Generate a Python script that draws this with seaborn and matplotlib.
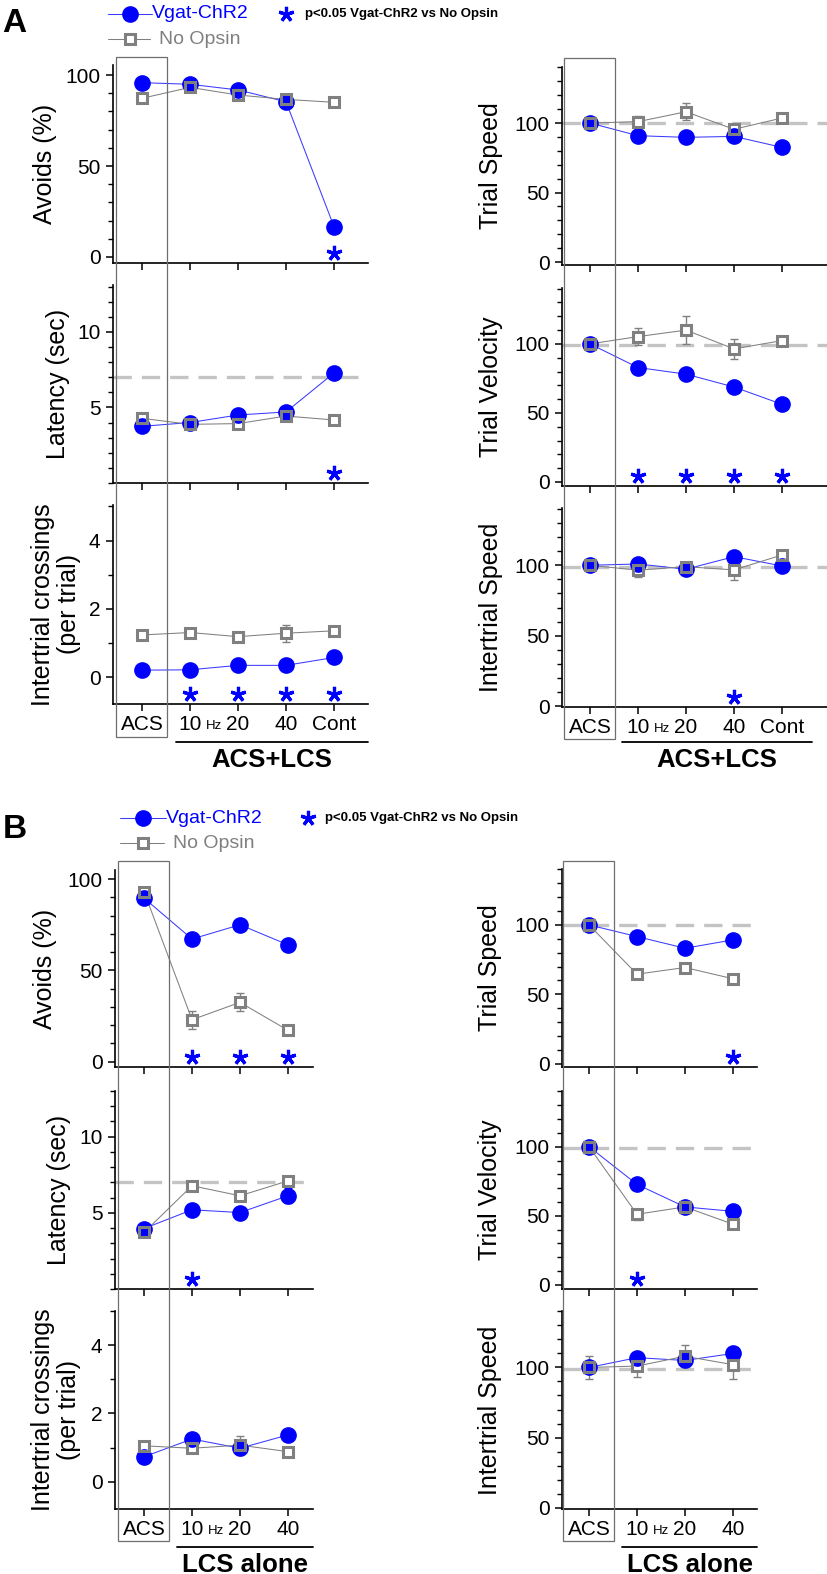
import matplotlib
matplotlib.use("Agg")
import numpy as np
import pandas as pd
import matplotlib.pyplot as plt
import matplotlib.transforms as mtransforms
from matplotlib.lines import Line2D
from matplotlib.patches import Rectangle
from matplotlib.ticker import FixedLocator, MultipleLocator
import seaborn as sns

W, H = 828, 1574

# ---- categories ----
acs_lcs_labels = ["ACS", "10", "20", "40", "Cont"]
lcs_alone_labels = ["ACS", "10", "20", "40"]

# ---- A: ACS+LCS ----
a_avoids_chr2 = [95.8, 94.9, 91.8, 85.3, 16.7]
a_avoids_noop = [87.2, 93.2, 89.0, 86.6, 85.0]
a_avoids_chr2_err = [1.5, 1.5, 1.5, 2.0, 3.0]
a_avoids_noop_err = [1.5, 1.5, 1.5, 2.0, 1.5]
a_avoids_stars = [4]

a_latency_chr2 = [3.75, 4.0, 4.5, 4.7, 7.28]
a_latency_noop = [4.28, 3.88, 3.93, 4.43, 4.17]
a_latency_chr2_err = [0.15, 0.15, 0.2, 0.2, 0.25]
a_latency_noop_err = [0.2, 0.15, 0.15, 0.2, 0.15]
a_latency_stars = [4]

a_cross_chr2 = [0.21, 0.22, 0.35, 0.35, 0.58]
a_cross_noop = [1.24, 1.31, 1.19, 1.29, 1.36]
a_cross_chr2_err = [0.05, 0.05, 0.05, 0.05, 0.08]
a_cross_noop_err = [0.08, 0.08, 0.08, 0.25, 0.08]
a_cross_stars = [1, 2, 3, 4]

a_tspeed_chr2 = [100, 90.9, 89.7, 90.4, 82.5]
a_tspeed_noop = [100, 101.0, 108.1, 95.5, 103.6]
a_tspeed_chr2_err = [1, 2, 2, 2, 2]
a_tspeed_noop_err = [1, 4, 6, 3, 2]
a_tspeed_stars = []

a_tvel_chr2 = [100, 82.9, 78.1, 68.8, 56.3]
a_tvel_noop = [100, 105.3, 110.0, 96.4, 102.4]
a_tvel_chr2_err = [1, 2, 2, 3, 3]
a_tvel_noop_err = [1, 6, 10, 7, 2]
a_tvel_stars = [1, 2, 3, 4]

a_ispeed_chr2 = [100, 100.9, 97.2, 106.1, 99.5]
a_ispeed_noop = [100, 96.5, 99.0, 96.7, 107.3]
a_ispeed_chr2_err = [1, 2, 2, 3, 2]
a_ispeed_noop_err = [2, 5, 3, 7, 3]
a_ispeed_stars = [3]

# ---- B: LCS alone ----
b_avoids_chr2 = [89.6, 67.2, 75.0, 64.0]
b_avoids_noop = [93.2, 23.0, 32.5, 17.2]
b_avoids_chr2_err = [2, 3, 2, 2]
b_avoids_noop_err = [1.5, 5, 5, 2]
b_avoids_stars = [1, 2, 3]

b_latency_chr2 = [3.97, 5.2, 5.02, 6.12]
b_latency_noop = [3.71, 6.78, 6.12, 7.1]
b_latency_chr2_err = [0.2, 0.2, 0.2, 0.5]
b_latency_noop_err = [0.2, 0.2, 0.2, 0.2]
b_latency_stars = [1]

b_cross_chr2 = [0.73, 1.25, 0.98, 1.37]
b_cross_noop = [1.05, 0.98, 1.07, 0.88]
b_cross_chr2_err = [0.08, 0.08, 0.08, 0.08]
b_cross_noop_err = [0.1, 0.1, 0.28, 0.1]
b_cross_stars = []

b_tspeed_chr2 = [100, 91.6, 83.2, 89.2]
b_tspeed_noop = [100, 64.5, 69.3, 61.2]
b_tspeed_chr2_err = [1, 2, 2, 2]
b_tspeed_noop_err = [2, 3, 3, 3]
b_tspeed_stars = [3]

b_tvel_chr2 = [100, 72.7, 56.4, 53.2]
b_tvel_noop = [100, 51.1, 56.4, 43.9]
b_tvel_chr2_err = [1, 3, 2, 2]
b_tvel_noop_err = [2, 4, 3, 3]
b_tvel_stars = [1]

b_ispeed_chr2 = [100, 107.0, 105.0, 110.0]
b_ispeed_noop = [100, 101.0, 108.0, 102.0]
b_ispeed_chr2_err = [3, 3, 3, 3]
b_ispeed_noop_err = [8, 8, 8, 10]
b_ispeed_stars = []

BLUE = "#0000FF"
LINE_BLUE = "#3A3AFF"
GRAY = "#808080"
REF_GRAY = "#C4C4C4"
BOX_GRAY = "#6E6E6E"
FONT = ["Liberation Sans", "DejaVu Sans"]

YSPEC = {
    "avoids": ([0, 50, 100], 10),
    "latency": ([5, 10], 1),
    "cross": ([0, 2, 4], 1),
    "speed": ([0, 50, 100], 10),
}


def fpx(x, y):
    return x / W, 1 - y / H


def add_axes(fig, l, r, t, b):
    return fig.add_axes([l / W, 1 - b / H, (r - l) / W, (b - t) / H])


def draw_panel(ax, labels, chr2, noop, chr2_err, noop_err, stars, ref, ylim, kind, xlim, show_labels):
    n = len(labels)
    x = np.arange(n)
    df = pd.DataFrame({"x": np.tile(x, 2), "y": np.r_[chr2, noop],
                       "group": ["Vgat-ChR2"] * n + ["No Opsin"] * n})
    sns.lineplot(data=df, x="x", y="y", hue="group",
                 palette={"Vgat-ChR2": LINE_BLUE, "No Opsin": GRAY},
                 linewidth=0.75, legend=False, errorbar=None, ax=ax, zorder=1)
    if ref is not None:
        ax.axhline(ref, color=REF_GRAY, lw=2.4, dashes=(5.5, 3.0), zorder=0.5)
    ax.errorbar(x, chr2, yerr=chr2_err, fmt="none", ecolor=BLUE, elinewidth=1,
                capsize=3, capthick=1, zorder=1.5)
    ax.errorbar(x, noop, yerr=noop_err, fmt="none", ecolor=GRAY, elinewidth=1,
                capsize=3, capthick=1, zorder=1.5)
    # white square faces mask the lines, circles on top, hollow square edges last
    ax.plot(x, noop, ls="none", marker="s", ms=7.6, mfc="white", mec="none", zorder=2)
    ax.plot(x, chr2, ls="none", marker="o", ms=11, mfc=BLUE, mec=BLUE, zorder=3)
    ax.plot(x, noop, ls="none", marker="s", ms=7.6, mfc="none", mec=GRAY, mew=2.2, zorder=4)

    if stars:
        tr = mtransforms.blended_transform_factory(ax.transData, ax.transAxes)
        ax.plot(stars, [0.05] * len(stars), transform=tr, ls="none", marker=(5, 2, 0),
                ms=11, mew=2.3, color=BLUE, clip_on=False, zorder=5)

    ax.set_xlim(*xlim)
    ax.set_ylim(*ylim)
    major, minor = YSPEC[kind]
    ax.yaxis.set_major_locator(FixedLocator(major))
    ax.yaxis.set_minor_locator(MultipleLocator(minor))
    ax.set_xticks(x)
    if show_labels:
        ax.set_xticklabels(labels)
        ax.annotate("Hz", xy=(1.5, 0), xycoords=("data", "axes fraction"),
                    xytext=(0, -18), textcoords="offset points", ha="center",
                    va="baseline", fontsize=9.5, family=FONT, color="black")
    else:
        ax.set_xticklabels([])
    ax.set_xlabel("")
    ax.set_ylabel("")
    sns.despine(ax=ax)
    for sp in ("left", "bottom"):
        ax.spines[sp].set_linewidth(1.2)
        ax.spines[sp].set_color("black")
    ax.tick_params(axis="both", which="major", direction="out", length=5, width=1.1,
                   labelsize=15, pad=3, color="black", labelcolor="black")
    ax.tick_params(axis="y", which="minor", direction="out", length=3.3, width=1.0, color="black")
    ax.tick_params(axis="y", which="major", pad=4)


def main():
    sns.set_theme(style="ticks")
    plt.rcParams["font.family"] = FONT
    plt.rcParams["text.color"] = "black"
    fig = plt.figure(figsize=(W / 100, H / 100), dpi=100)

    ylabels = ["Avoids (%)", "Latency (sec)", "Intertrial crossings\n(per trial)",
               "Trial Speed", "Trial Velocity", "Intertrial Speed"]
    kinds = ["avoids", "latency", "cross", "speed", "speed", "speed"]

    sections = [
        dict(labels=acs_lcs_labels, bracket="ACS+LCS",
             data=[(a_avoids_chr2, a_avoids_noop, a_avoids_chr2_err, a_avoids_noop_err, a_avoids_stars, None),
                   (a_latency_chr2, a_latency_noop, a_latency_chr2_err, a_latency_noop_err, a_latency_stars, 7),
                   (a_cross_chr2, a_cross_noop, a_cross_chr2_err, a_cross_noop_err, a_cross_stars, None),
                   (a_tspeed_chr2, a_tspeed_noop, a_tspeed_chr2_err, a_tspeed_noop_err, a_tspeed_stars, 100),
                   (a_tvel_chr2, a_tvel_noop, a_tvel_chr2_err, a_tvel_noop_err, a_tvel_stars, 99),
                   (a_ispeed_chr2, a_ispeed_noop, a_ispeed_chr2_err, a_ispeed_noop_err, a_ispeed_stars, 99)],
             ylims=[(-3.3, 105.5), (0, 13.1), (-0.78, 5.04), (-2.1, 140.3), (-2.9, 140.5), (-0.5, 140.6)],
             cols=[dict(l=113, r=368, c0=142, rows=[(65, 263), (285, 483), (505, 704)], ylab_x=[45, 58, 56],
                        box=(57, 737), br_x=(0.7, None), br_y=742, txt_y=760),
                   dict(l=562, r=828, c0=590, rows=[(67, 265), (288, 486), (508, 707)], ylab_x=[491, 491, 491],
                        box=(58, 739), br_x=(0.67, 4.625), br_y=742, txt_y=760)],
             letter=("A", 2, 23), leg=(108, 152, 14, 39, 159), stat=(286, 305, 14)),
        dict(labels=lcs_alone_labels, bracket="LCS alone",
             data=[(b_avoids_chr2, b_avoids_noop, b_avoids_chr2_err, b_avoids_noop_err, b_avoids_stars, None),
                   (b_latency_chr2, b_latency_noop, b_latency_chr2_err, b_latency_noop_err, b_latency_stars, 7),
                   (b_cross_chr2, b_cross_noop, b_cross_chr2_err, b_cross_noop_err, b_cross_stars, None),
                   (b_tspeed_chr2, b_tspeed_noop, b_tspeed_chr2_err, b_tspeed_noop_err, b_tspeed_stars, 100),
                   (b_tvel_chr2, b_tvel_noop, b_tvel_chr2_err, b_tvel_noop_err, b_tvel_stars, 99),
                   (b_ispeed_chr2, b_ispeed_noop, b_ispeed_chr2_err, b_ispeed_noop_err, b_ispeed_stars, 99)],
             ylims=[(-2.9, 105), (0, 13), (-0.8, 5.0), (-2.4, 140.3), (-3, 140.3), (-1, 140.3)],
             cols=[dict(l=115, r=313, c0=144, rows=[(870, 1067), (1091, 1289), (1311, 1509)], ylab_x=[45, 59, 56],
                        box=(861, 1541), br_x=(0.69, None), br_y=1547, txt_y=1565),
                   dict(l=562, r=757, c0=589, rows=[(869, 1067), (1091, 1289), (1311, 1509)], ylab_x=[490, 490, 490],
                        box=(861, 1541), br_x=(0.69, None), br_y=1547, txt_y=1565)],
             letter=("B", 3, 829), leg=(120, 166, 818, 843, 173), stat=(308, 325, 818)),
    ]

    for sec in sections:
        labels = sec["labels"]
        for ci, col in enumerate(sec["cols"]):
            xlim = ((col["l"] - col["c0"]) / 48, (col["r"] - col["c0"]) / 48)
            ax_bottom = None
            for ri, (t, b) in enumerate(col["rows"]):
                k = ci * 3 + ri
                ax = add_axes(fig, col["l"], col["r"], t, b)
                chr2, noop, ce, ne, stars, ref = sec["data"][k]
                draw_panel(ax, labels, chr2, noop, ce, ne, stars, ref, sec["ylims"][k],
                           kinds[k], xlim, show_labels=(ri == 2))
                fx, fy = fpx(col["ylab_x"][ri], (t + b) / 2)
                fig.text(fx, fy, ylabels[k], rotation=90, ha="center", va="center",
                         fontsize=18, linespacing=1.15, multialignment="center")
                ax_bottom = ax
            blend = mtransforms.blended_transform_factory(ax_bottom.transData, fig.transFigure)
            # ACS box
            y_top, y_bot = col["box"]
            fig.add_artist(Rectangle((-0.55, 1 - y_bot / H), 1.08, (y_bot - y_top) / H,
                                     transform=blend, fill=False, edgecolor=BOX_GRAY, lw=0.9))
            # bracket + label
            x0, x1 = col["br_x"]
            if x1 is None:
                x1 = xlim[1]
            fig.add_artist(Line2D([x0, x1], [1 - col["br_y"] / H] * 2, transform=blend,
                                  color="black", lw=1.3))
            fig.text((x0 + x1) / 2, 1 - col["txt_y"] / H, sec["bracket"], transform=blend,
                     ha="center", va="center", fontsize=18.5, fontweight="bold")

        # panel letter + legend
        letter, lx, ly = sec["letter"]
        fig.text(*fpx(lx, ly), letter, ha="left", va="center", fontsize=24, fontweight="bold")
        lx0, lx1, y1, y2, tx2 = sec["leg"]
        cx = (lx0 + lx1) / 2
        fig.add_artist(Line2D([lx0 / W, lx1 / W], [1 - y1 / H] * 2, color=LINE_BLUE, lw=0.75))
        fig.add_artist(Line2D([cx / W], [1 - y1 / H], ls="none", marker="o", ms=11, color=BLUE))
        fig.text(*fpx(lx1, y1), "Vgat-ChR2", ha="left", va="center", fontsize=14, color=BLUE)
        fig.add_artist(Line2D([lx0 / W, (lx1 - 2) / W], [1 - y2 / H] * 2, color=GRAY, lw=0.75))
        fig.add_artist(Line2D([cx / W], [1 - y2 / H], ls="none", marker="s", ms=7.6,
                              mfc="white", mec=GRAY, mew=2.2))
        fig.text(*fpx(tx2, y2), "No Opsin", ha="left", va="center", fontsize=14, color=GRAY)
        sx, stx, sy = sec["stat"]
        fig.add_artist(Line2D([sx / W], [1 - sy / H], ls="none", marker=(5, 2, 0), ms=11,
                              mew=2.3, color=BLUE))
        fig.text(*fpx(stx, sy), "p<0.05 Vgat-ChR2 vs No Opsin", ha="left", va="center",
                 fontsize=9.5, fontweight="bold")

    fig.savefig("out.png", dpi=100)
    plt.close(fig)


if __name__ == "__main__":
    main()
